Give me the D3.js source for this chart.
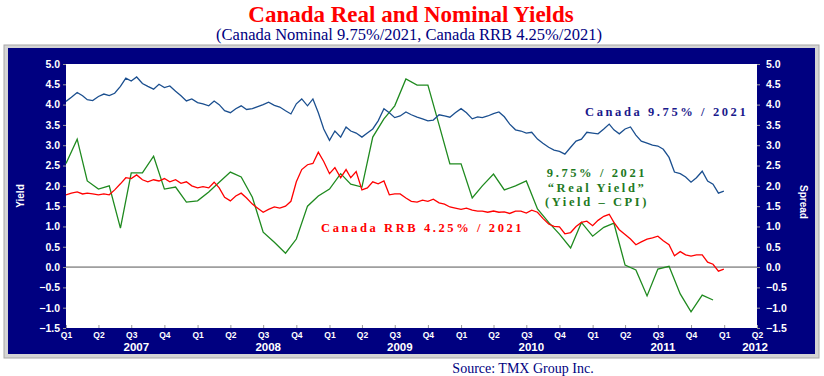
<!DOCTYPE html>
<html>
<head>
<meta charset="utf-8">
<script src="https://cdn.jsdelivr.net/npm/d3@7"></script>
<style>
  body { margin: 0; background: #fff; }
  svg { display: block; }
</style>
</head>
<body>
<svg id="chart"></svg>
<script>
// ---- data ----
let quarterLabels = ["Q1", "Q2", "Q3", "Q4"];
let yearLabels = ["2007", "2008", "2009", "2010", "2011", "2012"];
let yTicks = [5.0, 4.5, 4.0, 3.5, 3.0, 2.5, 2.0, 1.5, 1.0, 0.5, 0.0, -0.5, -1.0, -1.5];

// Canada 9.75% / 2021 nominal yield, twice a month from Jan 2007
let nominalYield = [
  4.08, 4.18, 4.30, 4.22, 4.12, 4.10, 4.20, 4.26, 4.22, 4.28, 4.45, 4.65,
  4.58, 4.68, 4.52, 4.45, 4.38, 4.50, 4.42, 4.46, 4.33, 4.22, 4.09, 4.14,
  4.05, 4.02, 3.97, 4.09, 4.00, 3.85, 3.80, 3.90, 3.97, 3.88, 3.90, 3.95,
  4.00, 4.06, 3.98, 3.94, 3.85, 3.77, 4.02, 4.14, 3.97, 4.14, 3.80, 3.40,
  3.12, 3.35, 3.20, 3.45, 3.35, 3.30, 3.20, 3.30, 3.40, 3.60, 3.90, 3.80,
  3.68, 3.72, 3.82, 3.75, 3.69, 3.65, 3.60, 3.62, 3.75, 3.72, 3.69, 3.80,
  3.90, 3.80, 3.65, 3.70, 3.68, 3.72, 3.78, 3.82, 3.70, 3.52, 3.38, 3.35,
  3.30, 3.32, 3.15, 3.05, 2.95, 2.88, 2.85, 2.78, 2.95, 3.10, 3.15, 3.32,
  3.30, 3.28, 3.40, 3.52, 3.38, 3.28, 3.40, 3.45, 3.25, 3.10, 3.05, 3.00,
  2.98, 2.90, 2.70, 2.34, 2.30, 2.22, 2.09, 2.20, 2.36, 2.12, 2.04, 1.82,
  1.87
];

// Canada RRB 4.25% / 2021 real yield, twice a month from Jan 2007
let rrbYield = [
  1.78, 1.82, 1.85, 1.80, 1.82, 1.80, 1.78, 1.80, 1.78, 1.90, 2.05, 2.20,
  2.18, 2.27, 2.15, 2.10, 2.15, 2.12, 2.18, 2.10, 2.15, 2.06, 2.10, 2.00,
  1.95, 1.98, 1.95, 2.09, 1.95, 1.72, 1.63, 1.75, 1.82, 1.70, 1.55, 1.45,
  1.35, 1.42, 1.48, 1.45, 1.50, 1.62, 2.10, 2.40, 2.52, 2.55, 2.83, 2.60,
  2.30, 2.45, 2.20, 2.40, 2.20, 2.35, 1.90, 1.95, 2.10, 2.05, 2.12, 1.78,
  1.80, 1.80, 1.70, 1.62, 1.60, 1.65, 1.62, 1.67, 1.58, 1.55, 1.48, 1.45,
  1.42, 1.45, 1.40, 1.38, 1.38, 1.35, 1.38, 1.35, 1.36, 1.32, 1.38, 1.38,
  1.33, 1.40, 1.35, 1.20, 1.06, 1.00, 0.99, 0.82, 0.85, 1.00, 1.10, 1.13,
  1.02, 1.15, 1.25, 1.30, 1.10, 0.92, 0.80, 0.69, 0.55, 0.62, 0.69, 0.72,
  0.76, 0.65, 0.55, 0.28, 0.38, 0.30, 0.27, 0.30, 0.30, 0.12, 0.07, -0.10,
  -0.05
];

// 9.75% / 2021 "Real Yield" (Yield - CPI), monthly from Jan 2007
let realYieldSpread = [
  2.55, 3.15, 2.12, 1.92, 2.00, 0.96, 2.32, 2.32, 2.73, 1.92, 1.97, 1.60,
  1.63, 1.85, 2.09, 2.34, 2.22, 1.72, 0.86, 0.61, 0.34, 0.69, 1.50, 1.75,
  1.92, 2.30, 2.04, 1.97, 3.20, 3.65, 3.97, 4.63, 4.48, 4.48, 3.50, 2.54,
  2.54, 1.70, 2.00, 2.29, 1.90, 2.00, 2.12, 1.43, 1.10, 0.81, 0.47, 1.10,
  0.76, 0.98, 1.08, 0.05, -0.07, -0.71, -0.05, 0.02, -0.66, -1.10, -0.69, -0.81
];

// dates for the series
let halfMonthDates = [];
d3.timeMonth.range(new Date(2007, 0, 1), new Date(2012, 0, 1)).forEach(m => {
  halfMonthDates.push(m);
  halfMonthDates.push(new Date(m.getFullYear(), m.getMonth(), 16));
});
halfMonthDates.push(new Date(2011, 11, 31));
let monthDates = d3.timeMonth.range(new Date(2007, 0, 1), new Date(2012, 0, 1));

// ---- layout ----
let width = 824, height = 376;
let plot = { left: 66, right: 757, top: 64, bottom: 328 };

let svg = d3.select("#chart").attr("width", width).attr("height", height);

// outer frame
svg.append("rect").attr("x", 4).attr("y", 45).attr("width", 815).attr("height", 313)
  .attr("fill", "#d4d4d4").attr("stroke", "#a8a8a8");
svg.append("rect").attr("x", 8).attr("y", 48).attr("width", 807).attr("height", 306)
  .attr("fill", "#000080");
svg.append("rect").attr("x", plot.left).attr("y", plot.top)
  .attr("width", plot.right - plot.left).attr("height", plot.bottom - plot.top)
  .attr("fill", "#ffffff");

let x = d3.scaleTime()
  .domain([new Date(2007, 0, 1), new Date(2012, 3, 1)])
  .range([plot.left, plot.right]);
let y = d3.scaleLinear().domain([-1.5, 5]).range([plot.bottom, plot.top]);

// titles
svg.append("text").attr("x", 411).attr("y", 22).attr("text-anchor", "middle")
  .attr("font-family", "Liberation Serif, Times New Roman, serif")
  .attr("font-weight", "bold").attr("font-size", 23).attr("fill", "#ff0000")
  .text("Canada Real and Nominal Yields");
svg.append("text").attr("x", 409).attr("y", 40).attr("text-anchor", "middle")
  .attr("font-family", "Liberation Serif, Times New Roman, serif")
  .attr("font-size", 16.5).attr("fill", "#000080")
  .text("(Canada Nominal 9.75%/2021, Canada RRB 4.25%/2021)");

// axes
let tickFont = "Liberation Sans, Arial, sans-serif";
let leftAxis = d3.axisLeft(y).tickValues(yTicks).tickFormat(d3.format(".1f")).tickSize(3).tickPadding(3);
let rightAxis = d3.axisRight(y).tickValues(yTicks).tickFormat(d3.format(".1f")).tickSize(3).tickPadding(6);

function styleAxis(g) {
  g.select(".domain").remove();
  g.selectAll(".tick line").attr("stroke", "#9a9a9a");
  g.selectAll(".tick text").attr("fill", "#ffffff").attr("font-family", tickFont)
    .attr("font-weight", "bold").attr("font-size", 10.5);
}
svg.append("g").attr("transform", `translate(${plot.left},0)`).call(leftAxis).call(styleAxis);
svg.append("g").attr("transform", `translate(${plot.right},0)`).call(rightAxis).call(styleAxis);

let quarterTicks = d3.timeMonth.every(3).range(new Date(2007, 0, 1), new Date(2012, 3, 2));
let bottomAxis = d3.axisBottom(x).tickValues(quarterTicks)
  .tickFormat(d => quarterLabels[Math.floor(d.getMonth() / 3)])
  .tickSize(3).tickPadding(1);
svg.append("g").attr("transform", `translate(0,${plot.bottom})`).call(bottomAxis)
  .call(g => {
    g.select(".domain").remove();
    g.selectAll(".tick line").attr("stroke", "#9a9a9a").attr("transform", "translate(0,-3)");
    g.selectAll(".tick text").attr("fill", "#ffffff").attr("font-family", tickFont)
      .attr("font-weight", "bold").attr("font-size", 8.5);
  });

// year labels
svg.append("g").selectAll("text").data(yearLabels).join("text")
  .attr("x", d => d === "2012" ? x(new Date(2012, 3, 1)) - 2 : x(new Date(+d, 6, 15)))
  .attr("y", 351).attr("text-anchor", "middle")
  .attr("font-family", tickFont).attr("font-weight", "bold").attr("font-size", 11.5)
  .attr("fill", "#ffffff").text(d => d);

// axis titles
svg.append("text").attr("transform", "translate(24,196) rotate(-90)").attr("text-anchor", "middle")
  .attr("font-family", tickFont).attr("font-weight", "bold").attr("font-size", 10)
  .attr("fill", "#ffffff").text("Yield");
svg.append("text").attr("transform", "translate(800,202) rotate(90)").attr("text-anchor", "middle")
  .attr("font-family", tickFont).attr("font-weight", "bold").attr("font-size", 10)
  .attr("fill", "#ffffff").text("Spread");

// zero line
svg.append("line").attr("x1", plot.left).attr("x2", plot.right)
  .attr("y1", y(0)).attr("y2", y(0)).attr("stroke", "#555555").attr("stroke-width", 1);

// series
let line = d3.line().x(d => x(d[0])).y(d => y(d[1]));

svg.append("path").datum(d3.zip(monthDates, realYieldSpread))
  .attr("d", line).attr("fill", "none").attr("stroke", "#1f8a1f").attr("stroke-width", 1.3);
svg.append("path").datum(d3.zip(halfMonthDates, rrbYield))
  .attr("d", line).attr("fill", "none").attr("stroke", "#ff0000").attr("stroke-width", 1.3);
svg.append("path").datum(d3.zip(halfMonthDates, nominalYield))
  .attr("d", line).attr("fill", "none").attr("stroke", "#1b4f8f").attr("stroke-width", 1.3);

// labels on the chart
let serif = "Liberation Serif, Times New Roman, serif";
svg.append("text").attr("x", 585).attr("y", 116)
  .attr("font-family", serif).attr("font-weight", "bold").attr("font-size", 12.5)
  .attr("letter-spacing", 2.6).attr("fill", "#1a1a8c").text("Canada 9.75% / 2021");
svg.append("text").attr("x", 321).attr("y", 232)
  .attr("font-family", serif).attr("font-weight", "bold").attr("font-size", 12.5)
  .attr("letter-spacing", 2.6).attr("fill", "#ff0000").text("Canada RRB 4.25% / 2021");
let greenLines = ["9.75% / 2021", "\u201CReal Yield\u201D", "(Yield \u2013 CPI)"];
svg.append("g").selectAll("text").data(greenLines).join("text")
  .attr("x", 597).attr("y", (d, i) => 177 + i * 14.5).attr("text-anchor", "middle")
  .attr("font-family", serif).attr("font-weight", "bold").attr("font-size", 12.5)
  .attr("letter-spacing", 2.6).attr("fill", "#1f7a1f").text(d => d);

// source
svg.append("text").attr("x", 523).attr("y", 373).attr("text-anchor", "middle")
  .attr("font-family", serif).attr("font-size", 14).attr("fill", "#000080")
  .text("Source: TMX Group Inc.");
</script>
</body>
</html>
